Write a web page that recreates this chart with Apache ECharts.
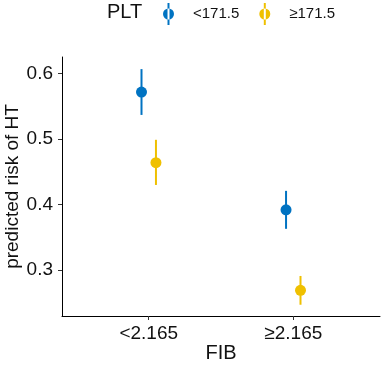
<!DOCTYPE html>
<html>
<head>
<meta charset="utf-8">
<script src="https://cdn.jsdelivr.net/npm/echarts@6/dist/echarts.min.js"></script>
<style>
  html, body { margin: 0; padding: 0; background: #fff; }
  #chart { width: 383px; height: 367px; }
</style>
</head>
<body>
<div id="chart"></div>
<script>
// FIB groups on the x axis
var fibCats = ['<2.165', '≥2.165'];
// PLT groups (legend)
var pltGroups = ['<171.5', '≥171.5'];
var pltColors = ['#0073C2', '#EFC000'];
// predicted risk, lower and upper bound per PLT group (one value per FIB group)
var riskLow = [0.572, 0.392];
var lowerLow = [0.537, 0.363];
var upperLow = [0.607, 0.421];
var riskHigh = [0.464, 0.269];
var lowerHigh = [0.430, 0.247];
var upperHigh = [0.499, 0.291];
var yTicks = [0.3, 0.4, 0.5, 0.6];

var font = 'Liberation Sans, Arial, sans-serif';
var dodge = 0.05; // position_dodge

var chart = echarts.init(document.getElementById('chart'));

function buildData(est, lo, hi, shift) {
  return est.map(function (v, i) {
    return [i + 1 + shift, v, lo[i], hi[i]];
  });
}

function pointRange(color) {
  return function (params, api) {
    var x = api.value(0);
    var c = api.coord([x, api.value(1)]);
    var lo = api.coord([x, api.value(2)]);
    var hi = api.coord([x, api.value(3)]);
    return {
      type: 'group',
      children: [
        { type: 'line', shape: { x1: lo[0], y1: lo[1], x2: hi[0], y2: hi[1] }, style: { stroke: color, lineWidth: 2 } },
        { type: 'circle', shape: { cx: c[0], cy: c[1], r: 5.5 }, style: { fill: color } }
      ]
    };
  };
}

// legend key: point with a vertical line through it
var keyIcon = 'path://M-0.5,0 A0.5,0.5 0 1,0 0.5,0 A0.5,0.5 0 1,0 -0.5,0 Z M-0.09,-1 L0.09,-1 L0.09,1 L-0.09,1 Z';

chart.setOption({
  animation: false,
  title: {
    text: 'PLT',
    left: 107,
    top: 2,
    padding: 0,
    textStyle: { fontFamily: font, fontSize: 20, fontWeight: 'normal', color: '#111' }
  },
  legend: {
    left: 163,
    top: 3,
    padding: 0,
    itemWidth: 11,
    itemHeight: 22,
    itemGap: 20,
    data: pltGroups.map(function (g) { return { name: g, icon: keyIcon }; }),
    textStyle: { fontFamily: font, fontSize: 15, color: '#111', padding: [0, 0, 0, 14] }
  },
  grid: { left: 62, right: 3, top: 57, bottom: 51, outerBoundsMode: 'none', containLabel: false },
  xAxis: {
    type: 'value',
    min: 0.4,
    max: 2.6,
    name: 'FIB',
    nameLocation: 'middle',
    nameGap: 27,
    nameMoveOverlap: false,
    nameTextStyle: { fontFamily: font, fontSize: 20, color: '#111' },
    splitLine: { show: false },
    axisLine: { lineStyle: { color: '#000', width: 1 } },
    axisTick: { customValues: [1, 2], length: 4, lineStyle: { color: '#333' } },
    axisLabel: {
      customValues: [1, 2],
      margin: 8,
      fontFamily: font,
      fontSize: 19,
      color: '#111',
      formatter: function (v) { return fibCats[Math.round(v) - 1]; }
    }
  },
  yAxis: {
    type: 'value',
    min: 0.2298,
    max: 0.6255,
    name: 'predicted risk of HT',
    nameLocation: 'middle',
    nameGap: 40,
    nameMoveOverlap: false,
    nameTextStyle: { fontFamily: font, fontSize: 19, color: '#111' },
    splitLine: { show: false },
    axisLine: { show: true, lineStyle: { color: '#000', width: 1 } },
    axisTick: { show: true, customValues: yTicks, length: 4, lineStyle: { color: '#333' } },
    axisLabel: {
      customValues: yTicks,
      margin: 9,
      fontFamily: font,
      fontSize: 19,
      color: '#111',
      formatter: function (v) { return v.toFixed(1); }
    }
  },
  series: [
    {
      name: pltGroups[0],
      type: 'custom',
      itemStyle: { color: pltColors[0] },
      renderItem: pointRange(pltColors[0]),
      encode: { x: 0, y: [1, 2, 3] },
      data: buildData(riskLow, lowerLow, upperLow, -dodge)
    },
    {
      name: pltGroups[1],
      type: 'custom',
      itemStyle: { color: pltColors[1] },
      renderItem: pointRange(pltColors[1]),
      encode: { x: 0, y: [1, 2, 3] },
      data: buildData(riskHigh, lowerHigh, upperHigh, dodge)
    }
  ]
});
</script>
</body>
</html>
